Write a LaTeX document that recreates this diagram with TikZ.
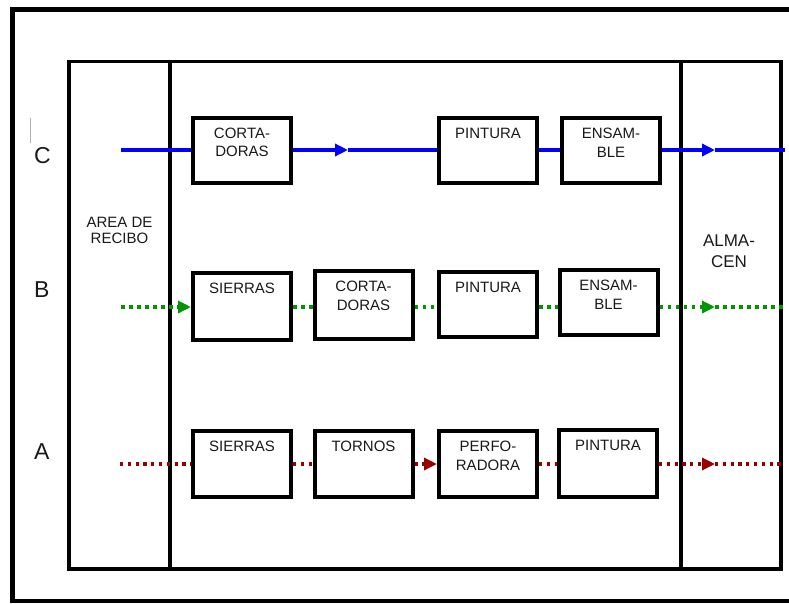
\documentclass[tikz,border=0pt]{standalone}
\usepackage{fontspec}
\setmainfont{Liberation Sans}
\usetikzlibrary{arrows.meta}
\definecolor{flowblue}{RGB}{0,0,255}
\definecolor{flowgreen}{RGB}{0,150,0}
\definecolor{flowred}{RGB}{150,0,0}
\definecolor{txt}{RGB}{25,25,25}
\begin{document}
\begin{tikzpicture}[x=1pt,y=-1pt,
  framebig/.style={line width=4.5pt},
  framein/.style={line width=3.5pt},
  procbox/.style={draw, line width=4pt, minimum width=98pt, inner sep=0pt},
  boxtext/.style={anchor=north, inner sep=0pt, align=center, text=txt, font=\fontsize{15}{18.5}\selectfont},
  rowlabel/.style={anchor=north, inner sep=0pt, text=txt, font=\fontsize{23}{26}\selectfont},
  cflow/.style={draw=flowblue, line width=3.5pt},
  bflow/.style={draw=flowgreen, line width=3.5pt, dash pattern=on 3.5pt off 4.5pt},
  aflow/.style={draw=flowred, line width=3.2pt, dash pattern=on 3.2pt off 4.6pt},
  tip/.style={-{Triangle[length=13pt,width=12pt]}}
]
\useasboundingbox (0,0) rectangle (789,603);

% frames
\draw[framebig] (791,9.5) -- (12.5,9.5) -- (12.5,601) -- (791,601);
\draw[framein] (69,61.5) rectangle (781,569);
\draw[framein] (170,61.5) -- (170,569);
\draw[framein] (681,61.5) -- (681,569);

% row labels
\draw[gray!60, line width=1pt] (30,118) -- (30,143);
\node[rowlabel] (lc) at (42.5,147) {C};
\node[rowlabel] (lb) at (41.7,281.7) {B};
\node[rowlabel] (la) at (41.7,443) {A};

% area labels
\node[boxtext, font=\fontsize{15}{16.5}\selectfont] (recibo) at (119.5,216.7) {AREA DE\\RECIBO};
\node[boxtext, font=\fontsize{17}{21}\selectfont] (almacen) at (729,235) {ALMA-\\CEN};

% row C
\node[procbox, minimum height=65pt] (c1) at (242,150) {};
\node[procbox, minimum height=65pt] (c2) at (488,150.5) {};
\node[procbox, minimum height=65pt] (c3) at (611,150.5) {};
\node[boxtext] (c1t) at ([yshift=-12pt]c1.north) {CORTA-\\DORAS};
\node[boxtext] (c2t) at ([yshift=-12pt]c2.north) {PINTURA};
\node[boxtext] (c3t) at ([yshift=-12pt]c3.north) {ENSAM-\\BLE};

% row B
\node[procbox, minimum height=67pt] (b1) at (242,306.5) {};
\node[procbox, minimum height=68pt] (b2) at (363.5,305) {};
\node[procbox, minimum height=65pt] (b3) at (488,304.5) {};
\node[procbox, minimum height=65pt] (b4) at (608.5,302.5) {};
\node[boxtext] (b1t) at ([yshift=-12pt]b1.north) {SIERRAS};
\node[boxtext] (b2t) at ([yshift=-12pt]b2.north) {CORTA-\\DORAS};
\node[boxtext] (b3t) at ([yshift=-12pt]b3.north) {PINTURA};
\node[boxtext] (b4t) at ([yshift=-12pt]b4.north) {ENSAM-\\BLE};

% row A
\node[procbox, minimum height=66pt] (a1) at (242,464) {};
\node[procbox, minimum height=66pt] (a2) at (363.5,464) {};
\node[procbox, minimum height=66pt] (a3) at (488,464) {};
\node[procbox, minimum height=67pt] (a4) at (608,463.5) {};
\node[boxtext] (a1t) at ([yshift=-12pt]a1.north) {SIERRAS};
\node[boxtext] (a2t) at ([yshift=-12pt]a2.north) {TORNOS};
\node[boxtext] (a3t) at ([yshift=-12pt]a3.north) {PERFO-\\RADORA};
\node[boxtext] (a4t) at ([yshift=-12pt]a4.north) {PINTURA};

% flow C
\coordinate (cin) at (121,150);
\coordinate (cm1) at (348,150);
\coordinate (cm2) at (715,150);
\coordinate (cout) at (785,150);
\draw[cflow] (cin) -- (c1.west);
\draw[cflow,tip] (c1.east) -- (cm1);
\draw[cflow] (cm1) -- (cm1 -| c2.west);
\draw[cflow] (c2.east |- cm1) -- (c3.west |- cm1);
\draw[cflow,tip] (c3.east |- cm1) -- (cm2);
\draw[cflow] (cm2) -- (cout);

% flow B
\coordinate (bin) at (121,307);
\coordinate (bm) at (715,307);
\coordinate (bout) at (785,307);
\draw[bflow,tip] (bin) -- (bin -| b1.west);
\draw[bflow] (b1.east |- bin) -- (b2.west |- bin);
\draw[bflow] (b2.east |- bin) -- (b3.west |- bin);
\draw[bflow] (b3.east |- bin) -- (b4.west |- bin);
\draw[bflow,tip] (b4.east |- bin) -- (bm);
\draw[bflow] (bm) -- (bout);

% flow A
\coordinate (ain) at (120,464);
\coordinate (am) at (715,464);
\coordinate (aout) at (785,464);
\draw[aflow] (ain) -- (a1.west);
\draw[aflow] (a1.east) -- (a2.west);
\draw[aflow,tip] (a2.east) -- (a3.west);
\draw[aflow] (a3.east) -- (a4.west |- ain);
\draw[aflow,tip] (a4.east |- ain) -- (am);
\draw[aflow] (am) -- (aout);
\end{tikzpicture}
\end{document}
